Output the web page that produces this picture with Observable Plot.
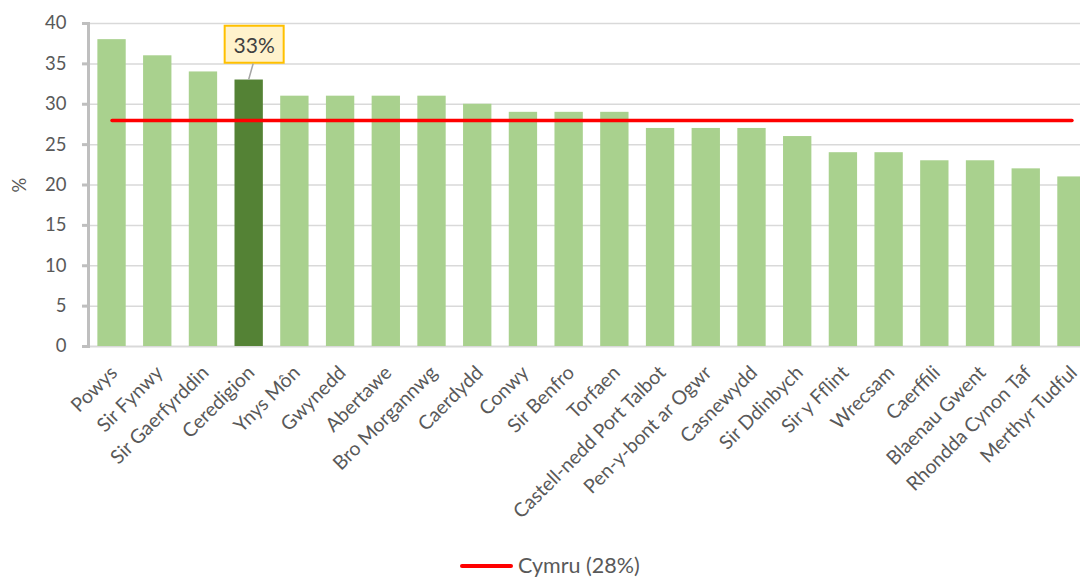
<!DOCTYPE html>
<html><head><meta charset="utf-8">
<script src="https://cdn.jsdelivr.net/npm/d3@7"></script>
<script src="https://cdn.jsdelivr.net/npm/@observablehq/plot@0.6"></script>
<style>
html,body{margin:0;padding:0;background:#fff;overflow:hidden;width:1080px;height:577px}
#chart svg{display:block;overflow:visible}
#legend{position:relative;height:32px;font-family:Lato,sans-serif;font-size:21.5px;color:#595959}
#legend .sw{position:absolute;left:460px;top:19px;width:53px;height:3.5px;background:#FF0000;border-radius:2px}
#legend .lb{position:absolute;left:518px;top:7px;line-height:26px}
</style></head><body>
<div id="chart"></div>
<div id="legend"></div>
<script>
const areas = ["Powys","Sir Fynwy","Sir Gaerfyrddin","Ceredigion","Ynys Môn","Gwynedd","Abertawe","Bro Morgannwg","Caerdydd","Conwy","Sir Benfro","Torfaen","Castell-nedd Port Talbot","Pen-y-bont ar Ogwr","Casnewydd","Sir Ddinbych","Sir y Fflint","Wrecsam","Caerffili","Blaenau Gwent","Rhondda Cynon Taf","Merthyr Tudful"];
const values = [38,36,34,33,31,31,31,31,30,29,29,29,27,27,27,26,24,24,23,23,22,21];
const highlightArea = "Ceredigion";
const walesValue = 28;
const walesLabel = "Cymru (28%)";
const calloutLabel = "33%";
const yTicks = [0,5,10,15,20,25,30,35,40];
const yLabel = "%";

const data = areas.map((a, i) => ({area: a, value: values[i]}));
const light = "#A9D18E", dark = "#548235";

const plot = Plot.plot({
  width: 1080, height: 545,
  marginTop: 23, marginBottom: 199, marginLeft: 88, marginRight: 0,
  style: {fontFamily: "Lato, sans-serif", background: "#fff", overflow: "visible"},
  x: {domain: areas, padding: 0.38, round: false, range: [80, 1103], label: null},
  y: {domain: [0, 40], label: yLabel},
  color: {type: "identity"},
  marks: [
    Plot.gridY(yTicks.filter(t => t > 0), {stroke: "#D9D9D9", strokeOpacity: 1, strokeWidth: 1.5}),
    Plot.ruleY([0], {stroke: "#D9D9D9", strokeWidth: 2}),
    Plot.barY(data, {x: "area", y: "value", fill: d => d.area === highlightArea ? dark : light}),
    Plot.lineY(data, {x: "area", y: () => walesValue, stroke: "#FF0000", strokeWidth: 3.5}),
    Plot.axisY({ticks: yTicks, tickSize: 6, tickPadding: 16, stroke: "#BFBFBF", strokeWidth: 3, fill: "#595959", fontSize: 18.5, label: yLabel, labelAnchor: "center", labelOffset: 76, labelArrow: "none"}),
    Plot.frame({anchor: "left", stroke: "#BFBFBF", strokeWidth: 3}),
    Plot.axisX({tickRotate: -45, tickSize: 0, tickPadding: 23, dx: 2, fill: "#595959", fontSize: 19.5, label: null}),
    Plot.text(data.filter(d => d.area === highlightArea), {x: "area", y: "value", text: () => calloutLabel, dy: -34, dx: 5, fontSize: 21, fill: "#404040"})
  ]
});
document.getElementById("chart").append(plot);

// callout box + leader
const ns = "http://www.w3.org/2000/svg";
const t = [...plot.querySelectorAll("text")].find(e => e.textContent === calloutLabel);
if (t) {
  const bb = t.getBBox();
  const cx = bb.x + bb.width / 2, cy = bb.y + bb.height / 2;
  const r = document.createElementNS(ns, "rect");
  r.setAttribute("x", cx - 29.5); r.setAttribute("y", cy - 18.5);
  r.setAttribute("width", 59); r.setAttribute("height", 37);
  r.setAttribute("fill", "#FFF2CC"); r.setAttribute("stroke", "#FFC000"); r.setAttribute("stroke-width", 2);
  if (t.getAttribute("transform")) r.setAttribute("transform", t.getAttribute("transform"));
  t.parentNode.insertBefore(r, t);
  const xs = plot.scale("x"), ys = plot.scale("y");
  const bx = xs.apply(highlightArea) + xs.bandwidth / 2, by = ys.apply(values[areas.indexOf(highlightArea)]);
  const l = document.createElementNS(ns, "line");
  l.setAttribute("x1", bx); l.setAttribute("y1", by);
  l.setAttribute("x2", bx + 4.5); l.setAttribute("y2", by - 16);
  l.setAttribute("stroke", "#A6A6A6"); l.setAttribute("stroke-width", 1.5);
  plot.appendChild(l);
}

const lg = document.getElementById("legend");
lg.innerHTML = '<span class="sw"></span><span class="lb"></span>';
lg.querySelector(".lb").textContent = walesLabel;
</script>
</body></html>
